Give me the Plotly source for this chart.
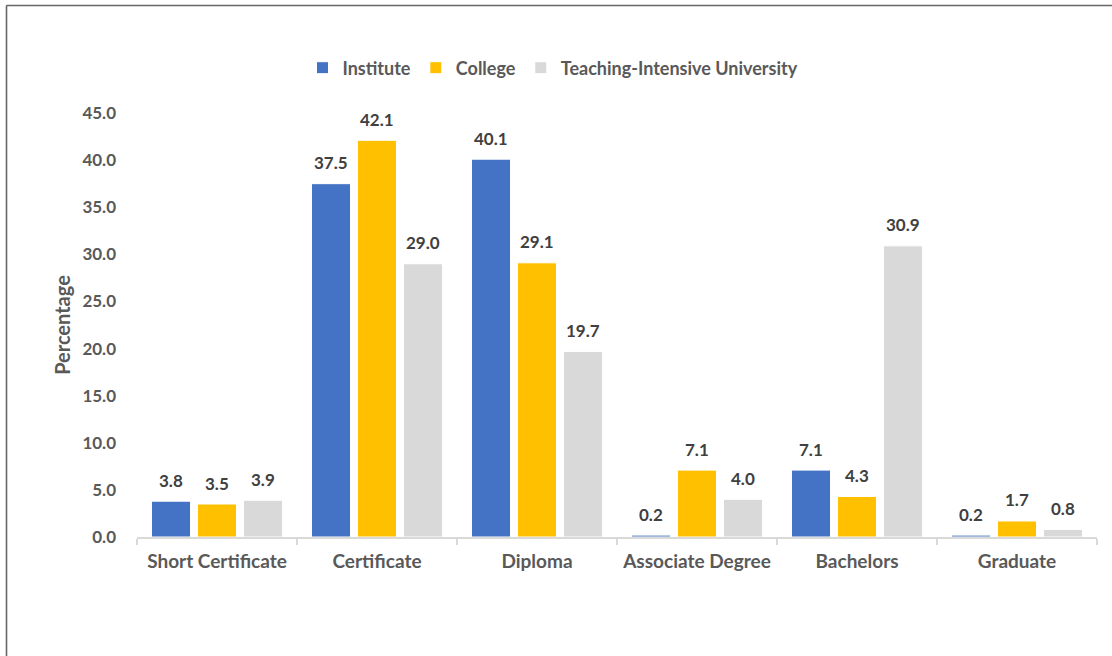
import plotly.graph_objects as go

categories = ["Short Certificate", "Certificate", "Diploma", "Associate Degree", "Bachelors", "Graduate"]
series_names = ["Institute", "College", "Teaching-Intensive University"]
institute = [3.8, 37.5, 40.1, 0.2, 7.1, 0.2]
college = [3.5, 42.1, 29.1, 7.1, 4.3, 1.7]
teaching = [3.9, 29.0, 19.7, 4.0, 30.9, 0.8]
y_ticks = [0, 5, 10, 15, 20, 25, 30, 35, 40, 45]

colors = ["#4472C4", "#FFC000", "#D9D9D9"]
series = [institute, college, teaching]

W, H = 1112, 656
L, T, R = 137, 113, 15
B = H - 537
FONT = "Lato"
TXT = "#595959"

fig = go.Figure()
for name, vals, col in zip(series_names, series, colors):
    fig.add_trace(go.Bar(
        x=categories, y=vals, name=name,
        marker=dict(color=col, line=dict(color="white", width=1)),
        hoverinfo="x+y+name",
    ))

bargap = 0.1375
pw = W - L - R
ph = H - T - B
slot = pw / len(categories) * (1 - bargap) / 3

annotations = []
for i, vals in enumerate(series):
    for c, v in zip(categories, vals):
        annotations.append(dict(
            x=c, y=v, xref="x", yref="y", text=f"{v:.1f}", showarrow=False,
            xshift=(i - 1) * slot, yshift=21, yanchor="middle",
            font=dict(family=FONT, size=17, color="#404040", weight="bold"),
        ))

def px2x(px):
    return (px - L) / pw

def py2y(py):
    return (H - B - py) / ph

shapes = [
    dict(type="line", xref="paper", yref="paper",
         x0=px2x(6.5), x1=px2x(6.5), y0=py2y(700), y1=py2y(5.5),
         line=dict(color="#666666", width=1.6)),
    dict(type="line", xref="paper", yref="paper",
         x0=px2x(6.5), x1=px2x(1150), y0=py2y(5.5), y1=py2y(5.5),
         line=dict(color="#666666", width=1.6)),
]

fig.update_layout(
    width=W, height=H,
    margin=dict(l=L, r=R, t=T, b=B, autoexpand=False),
    paper_bgcolor="white", plot_bgcolor="white",
    barmode="group", bargap=bargap, bargroupgap=0.15,
    font=dict(family=FONT, size=17, color=TXT, weight="bold"),
    legend=dict(orientation="h", xref="container", yref="container",
                x=553 / W, xanchor="center", y=1 - 68 / H, yanchor="middle",
                font=dict(family=FONT, size=18, color=TXT, weight="bold"),
                itemwidth=30, traceorder="normal"),
    xaxis=dict(
        showline=True, linecolor="#D9D9D9", linewidth=1.5,
        ticks="outside", tickson="boundaries", ticklen=6, tickcolor="#D9D9D9", tickwidth=1.5,
        showgrid=False, tickfont=dict(family=FONT, size=19, color=TXT, weight="bold"),
        ticklabelstandoff=6,
    ),
    yaxis=dict(
        range=[0, 45], tickvals=y_ticks, ticktext=[f"{t:.1f}" for t in y_ticks],
        showgrid=False, showline=False, zeroline=False, ticks="",
        tickfont=dict(family=FONT, size=17, color=TXT, weight="bold"),
        ticklabelstandoff=20,
        title=dict(text="Percentage", standoff=6,
                   font=dict(family=FONT, size=20, color=TXT, weight="bold")),
    ),
    annotations=annotations,
    shapes=shapes,
    showlegend=True,
)

fig.write_html("out.html", config={"displayModeBar": False},
               post_script="document.body.style.margin='0';")
